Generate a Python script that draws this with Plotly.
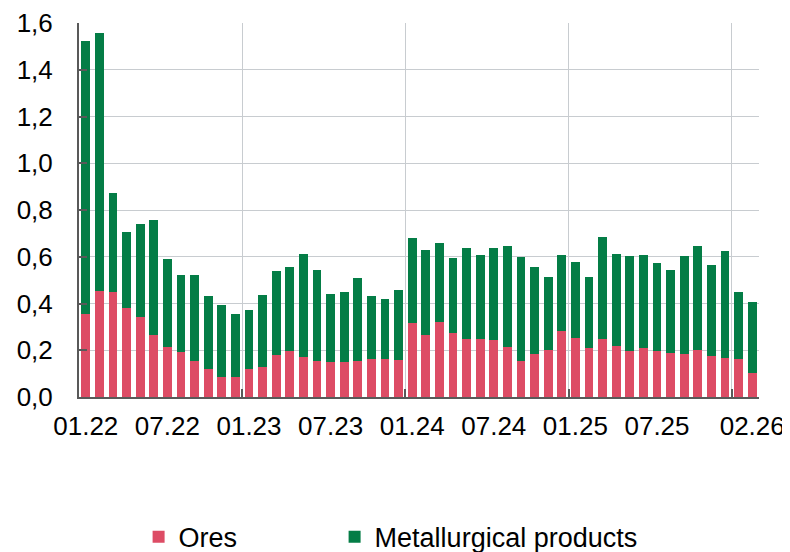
import plotly.graph_objects as go

# Monthly categories 01.22 ... 02.26
months = [f"{m:02d}.{y:02d}" for y in range(22, 27) for m in range(1, 13)][:50]

ores = [0.354, 0.453, 0.451, 0.379, 0.342, 0.264, 0.214, 0.193, 0.153, 0.118,
        0.084, 0.087, 0.121, 0.130, 0.180, 0.197, 0.173, 0.153, 0.148, 0.151,
        0.153, 0.161, 0.161, 0.158, 0.315, 0.264, 0.319, 0.275, 0.248, 0.250,
        0.242, 0.214, 0.155, 0.185, 0.200, 0.284, 0.252, 0.211, 0.248, 0.218,
        0.195, 0.210, 0.195, 0.187, 0.185, 0.200, 0.177, 0.167, 0.164, 0.104]

totals = [1.523, 1.557, 0.873, 0.704, 0.739, 0.757, 0.590, 0.522, 0.523, 0.432,
          0.394, 0.355, 0.374, 0.438, 0.538, 0.556, 0.610, 0.542, 0.441, 0.448,
          0.508, 0.432, 0.418, 0.459, 0.679, 0.627, 0.657, 0.595, 0.637, 0.606,
          0.639, 0.646, 0.600, 0.558, 0.513, 0.607, 0.578, 0.512, 0.684, 0.612,
          0.602, 0.606, 0.573, 0.545, 0.605, 0.645, 0.566, 0.626, 0.448, 0.405]

metallurgical = [round(t - o, 3) for t, o in zip(totals, ores)]

tick_labels = ["01.22", "07.22", "01.23", "07.23", "01.24", "07.24", "01.25", "07.25", "02.26"]

x = list(range(len(months)))
tickvals = [months.index(t) for t in tick_labels]
year_bounds = [i - 0.5 for i, m in enumerate(months) if m.startswith("01.") and i > 0]

RED = "#DD4C65"
GREEN = "#047D46"
AXIS = "#595959"
GRID = "#C8CCD0"
FONT = "Liberation Sans, Arial, sans-serif"
FS = 26

fig = go.Figure()
fig.add_trace(go.Bar(x=x, y=ores, name="Ores", legend="legend",
                     marker=dict(color=RED, line=dict(width=0))))
fig.add_trace(go.Bar(x=x, y=metallurgical, name="Metallurgical products", legend="legend2",
                     marker=dict(color=GREEN, line=dict(width=0))))

# page has an 8px body margin: figure coordinates = page coordinates - 8
OFF = 8
W, H = 790 - OFF, 552 - OFF
ML, MR, MT, MB = 79.4 - OFF, 30.6, 22.7 - OFF, 155.3
PW, PH = W - ML - MR, H - MT - MB


def px_x(page_px):
    return (page_px - OFF - ML) / PW


def px_y(page_py):
    return (H - MB - (page_py - OFF)) / PH


leg_common = dict(orientation="h", xanchor="left", yanchor="middle",
                  font=dict(size=27, family=FONT, color="black"),
                  bgcolor="rgba(0,0,0,0)", borderwidth=0)

fig.update_layout(
    barmode="stack",
    bargap=0.34,
    width=W, height=H,
    margin=dict(l=ML, r=MR, t=MT, b=MB, pad=0, autoexpand=False),
    paper_bgcolor="white", plot_bgcolor="white",
    separators=",.",
    font=dict(family=FONT, size=FS, color="black"),
    showlegend=True,
    legend=dict(x=px_x(139), y=px_y(537), **leg_common),
    legend2=dict(x=px_x(335), y=px_y(537), **leg_common),
    xaxis=dict(range=[-0.5, len(months) - 0.5], tickmode="array", tickvals=tickvals,
               ticktext=tick_labels, showgrid=False, zeroline=False, ticks="",
               automargin=False,
               showline=True, linecolor=AXIS, linewidth=2, ticklabelstandoff=5,
               minor=dict(tickmode="array", tickvals=year_bounds, showgrid=True, gridcolor=GRID,
                          gridwidth=1.2, ticks="inside", ticklen=8, tickwidth=2, tickcolor=AXIS)),
    yaxis=dict(range=[0, 1.6], dtick=0.2, tick0=0, tickformat=".1f", showgrid=True,
               automargin=False,
               gridcolor=GRID, gridwidth=1.2, zeroline=False, showline=True, linecolor=AXIS,
               linewidth=2, ticks="inside", ticklen=8, tickwidth=2, tickcolor=AXIS,
               ticklabelstandoff=19),
)

fig.write_html("out.html")
